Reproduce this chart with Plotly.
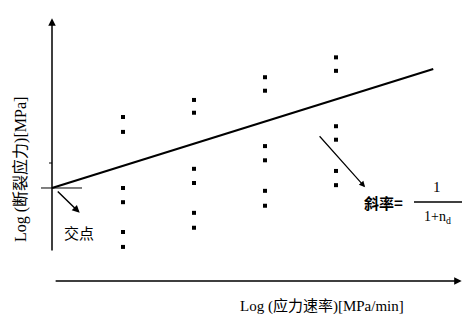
import plotly.graph_objects as go

# Data (log stress rate positions and log fracture stress values, arbitrary units)
rate_levels = [1, 2, 3, 4]
stress_col1 = [2.31, 2.10, 1.31, 1.11, 0.69, 0.48]
stress_col2 = [2.55, 2.37, 1.58, 1.38, 0.96, 0.75]
stress_col3 = [2.87, 2.68, 1.90, 1.70, 1.27, 1.06]
stress_col4 = [3.15, 2.96, 2.18, 1.99, 1.55, 1.35]
fit_intercept = 1.31
fit_slope = 0.312
fit_x_end = 5.37

xs, ys = [], []
for xv, col in zip(rate_levels, [stress_col1, stress_col2, stress_col3, stress_col4]):
    xs += [xv] * len(col)
    ys += col

fig = go.Figure()
fig.add_trace(go.Scatter(x=xs, y=ys, mode="markers",
                         marker=dict(symbol="square", size=4, color="black"),
                         showlegend=False, hoverinfo="skip"))
fig.add_trace(go.Scatter(x=[0, fit_x_end],
                         y=[fit_intercept, fit_intercept + fit_slope * fit_x_end],
                         mode="lines", line=dict(color="black", width=2.2),
                         showlegend=False, hoverinfo="skip"))


def px(v):
    return (v - 52) / 71


def py(v):
    return (281 - v) / 71


def arrow(x0, y0, x1, y1, w=1.5, head=2, size=1.0):
    fig.add_annotation(x=x1, y=y1, ax=x0, ay=y0, xref="x", yref="y", axref="x", ayref="y",
                       showarrow=True, arrowhead=head, arrowsize=size, arrowwidth=w,
                       arrowcolor="black", text="")


# axes
arrow(0, 0.41, 0, 3.70, w=1.5)
arrow(0.03, 0, 5.77, 0, w=1.5)
fig.add_shape(type="line", x0=px(41), x1=px(82), y0=fit_intercept, y1=fit_intercept,
              line=dict(color="black", width=1))
fig.add_shape(type="line", x0=px(49), x1=0.0, y0=py(163), y1=py(163),
              line=dict(color="black", width=1))
# callout arrows
arrow(0.06, 1.28, 0.39, 0.96, w=1.5)
arrow(3.75, 2.06, 4.41, 1.32, w=1.2)

cjk = "Noto Sans CJK SC"
serif = "Liberation Serif, Noto Sans CJK SC"
fig.add_annotation(x=px(79), y=py(232), xref="x", yref="y",
                   text="交点", showarrow=False, font=dict(family=cjk, size=15, color="black"))
fig.add_annotation(x=px(383), y=py(202), xref="x", yref="y",
                   text="<b>斜率=</b>", showarrow=False, font=dict(family=cjk, size=15, color="black"))
fig.add_annotation(x=px(437), y=py(187), xref="x", yref="y",
                   text="1", showarrow=False, font=dict(family=serif, size=15, color="black"))
fig.add_shape(type="line", x0=px(414), x1=px(462),
              y0=py(202), y1=py(202), line=dict(color="black", width=1.3))
fig.add_annotation(x=px(437), y=py(217), xref="x", yref="y",
                   text="1+n<sub>d</sub>", showarrow=False,
                   font=dict(family=serif, size=14, color="black"))
fig.add_annotation(x=px(322), y=py(306), xref="x", yref="y",
                   text="Log (应力速率)[MPa/min]", showarrow=False,
                   font=dict(family=serif, size=15, color="black"))
fig.add_annotation(x=px(20), y=py(170), xref="x", yref="y",
                   text="Log (断裂应力)[MPa]", showarrow=False, textangle=-90,
                   font=dict(family=serif, size=16, color="black"))

fig.update_layout(width=463, height=320, margin=dict(l=0, r=0, t=0, b=0),
                  paper_bgcolor="white", plot_bgcolor="white")
fig.update_xaxes(range=[px(0), px(463)], visible=False)
fig.update_yaxes(range=[py(320), py(0)], visible=False)
fig.write_html("out.html", config={"displayModeBar": False},
               post_script="document.body.style.margin='0';")
